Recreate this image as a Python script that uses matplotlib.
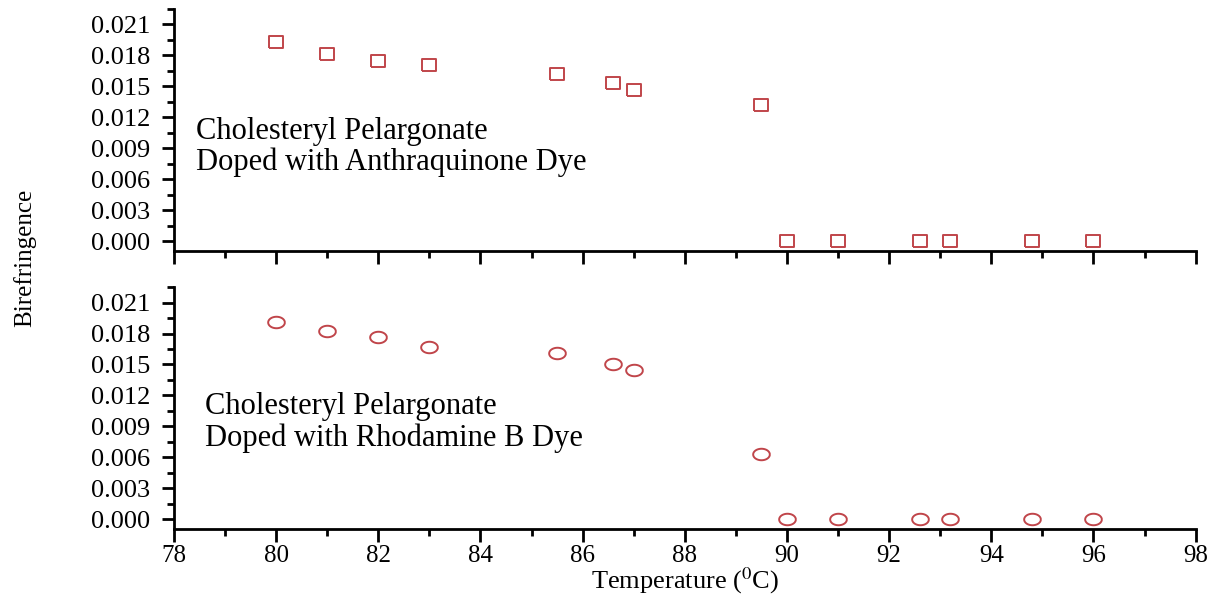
import numpy as np
import matplotlib.pyplot as plt
from matplotlib.ticker import MultipleLocator

# Temperature (deg C) and birefringence readings
temp = [80, 81, 82, 83, 85.5, 86.6, 87, 89.5, 90, 91, 92.6, 93.2, 94.8, 96]
biref_anthraquinone = [0.0193, 0.0181, 0.01745, 0.0171, 0.0162, 0.0153, 0.0147, 0.0132,
                       0, 0, 0, 0, 0, 0]
biref_rhodamine = [0.0191, 0.0182, 0.0177, 0.0167, 0.0161, 0.0150, 0.0145, 0.0063,
                   0, 0, 0, 0, 0, 0]

plt.rcParams['font.family'] = ['Liberation Serif', 'DejaVu Serif']
plt.rcParams['mathtext.fontset'] = 'stix'

red = '#c0454a'

# slightly wide markers, like the stretched original
wide_square = [(-1.3, -1), (1.3, -1), (1.3, 1), (-1.3, 1), (-1.3, -1)]
t = np.linspace(0, 2 * np.pi, 60)
wide_circle = list(zip(1.45 * np.cos(t), np.sin(t)))

fig = plt.figure(figsize=(12.25, 5.98), dpi=100)
ax1 = fig.add_axes([0.142, 0.58, 0.834, 0.405])
ax2 = fig.add_axes([0.142, 0.115, 0.834, 0.405])

ax1.plot(temp, biref_anthraquinone, linestyle='none', marker=wide_square, markersize=10.5,
         markerfacecolor='none', markeredgecolor=red, markeredgewidth=1.4)
ax2.plot(temp, biref_rhodamine, linestyle='none', marker=wide_circle, markersize=12,
         markerfacecolor='none', markeredgecolor=red, markeredgewidth=1.4)

ax1.text(0.022, 0.43, 'Cholesteryl Pelargonate\nDoped with Anthraquinone Dye',
         transform=ax1.transAxes, fontsize=22, va='center', linespacing=1.1)
ax2.text(0.030, 0.44, 'Cholesteryl Pelargonate\nDoped with Rhodamine B Dye',
         transform=ax2.transAxes, fontsize=22, va='center', linespacing=1.1)

for ax in (ax1, ax2):
    ax.set_xlim(78, 98)
    ax.set_ylim(-0.00095, 0.0225)
    ax.xaxis.set_major_locator(MultipleLocator(2))
    ax.xaxis.set_minor_locator(MultipleLocator(1))
    ax.yaxis.set_major_locator(MultipleLocator(0.003))
    ax.yaxis.set_minor_locator(MultipleLocator(0.0015))
    ax.yaxis.set_major_formatter(plt.FormatStrFormatter('%.3f'))
    ax.spines['top'].set_visible(False)
    ax.spines['right'].set_visible(False)
    ax.spines['left'].set_linewidth(2)
    ax.spines['bottom'].set_linewidth(2)
    ax.tick_params(which='major', direction='out', length=9, width=2, labelsize=19)
    ax.tick_params(axis='y', pad=8)
    ax.tick_params(axis='x', pad=2, labelsize=18)
    ax.tick_params(which='minor', direction='out', length=5, width=2)

ax1.tick_params(axis='x', labelbottom=False)
ax2.set_xlabel('Temperature ($^{0}$C)', fontsize=19, labelpad=-1)
fig.text(0.02, 0.569, 'Birefringence', rotation=90, fontsize=18, va='center', ha='center')

fig.savefig('out.png', dpi=100)
